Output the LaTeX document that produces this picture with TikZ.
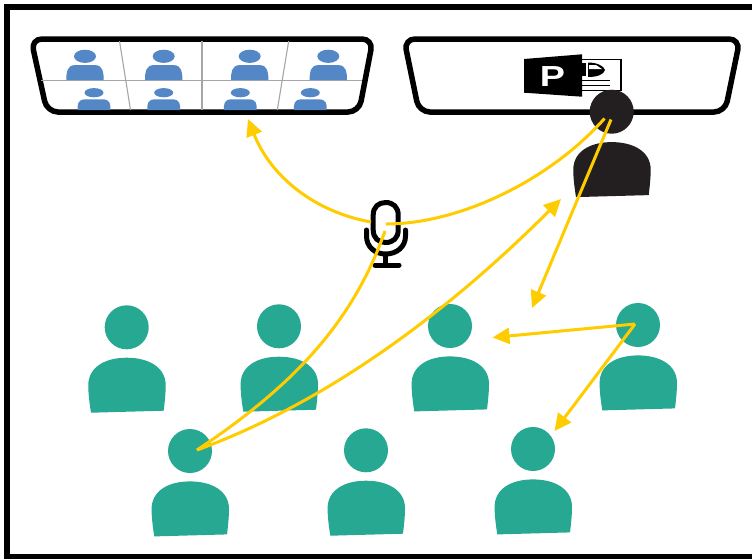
\documentclass[tikz,border=0pt]{standalone}
\usepackage{fontspec}
\setmainfont{Liberation Sans}
\usetikzlibrary{arrows.meta}
\definecolor{teal}{HTML}{27A893}
\definecolor{ink}{HTML}{231F20}
\definecolor{bluep}{HTML}{5487C5}
\definecolor{gold}{HTML}{FFCC00}
\tikzset{
  frameline/.style={draw=black,line width=5.5pt},
  screen/.style={draw=black,line width=5.5pt,rounded corners=11pt,fill=white},
  gridline/.style={draw=black!35,line width=1.1pt},
  flow/.style={draw=gold,line width=3pt,-{Triangle[length=17pt,width=16pt,fill=gold]}},
  flowplain/.style={draw=gold,line width=3pt},
  micline/.style={draw=black,line width=5pt,line cap=round},
  person/.pic={
    \fill (0,0) circle (22);
    \fill (-35.7,85.4) .. controls (-37.5,74) and (-38.4,66) .. (-38.4,58)
      .. controls (-38.4,40) and (-22,30.4) .. (0,30.4)
      .. controls (22,30.4) and (39,40) .. (39,58)
      .. controls (39,66) and (38,75) .. (37,83.4) -- cycle;
  },
  minitop/.pic={
    \fill (0,0) ellipse (11 and 6.6);
    \fill (-18.6,23.8) .. controls (-18.8,16) and (-18,9) .. (-10,8.8) -- (10,8.8)
      .. controls (18,9) and (18.8,16) .. (18.6,23.8) -- cycle;
  },
  minibot/.pic={
    \fill (0,0) ellipse (9.5 and 4.6);
    \fill (-16.4,17.3) .. controls (-16.6,11) and (-16,7) .. (-9,6.6) -- (9,6.6)
      .. controls (16,7) and (16.6,11) .. (16.4,17.3) -- cycle;
  }
}
\begin{document}
\begin{tikzpicture}[x=1pt,y=-1pt]
\useasboundingbox (0,0) rectangle (752,558);
\clip (0,0) rectangle (752,558);
\fill[white] (0,0) rectangle (752,558);
% frame
\draw[frameline] (760,7) -- (7.2,7) -- (7.2,557) -- (760,557);
% left screen
\draw[screen] (31,39) -- (373,39) -- (359,112) -- (47,112) -- cycle;
\draw[gridline] (41,80.7) -- (362,80.7);
\draw[gridline] (119.5,41) -- (130.5,110);
\draw[gridline] (202,41) -- (202,110);
\draw[gridline] (288.7,41) -- (277.3,110);
\foreach \px in {85,163.7,249.7,328.3}
  \pic[fill=bluep] at (\px,56.3) {minitop};
\foreach \px in {94,163.7,240.3,310.3}
  \pic[fill=bluep] at (\px,92.7) {minibot};
% right screen
\draw[screen] (404,39) -- (740,39) -- (725,112) -- (419,112) -- cycle;
% PowerPoint icon
\draw[black,line width=1pt,fill=white] (575,59.5) -- (621,59.5) -- (621,90.5) -- (575,90.5) -- cycle;
\draw[black,line width=1.6pt] (621.2,59.5) -- (621.2,90.5);
\fill[black] (588,62.5) .. controls (597,62.5) and (604,66) .. (605,70)
  .. controls (604,74.5) and (597,77) .. (588,77) -- cycle;
\fill[white] (589,65) -- (596,65) -- (602,69) -- (589,69) -- cycle;
\fill[black] (582,63) rectangle (586,76);
\draw[black,line width=1.2pt] (582,80.4) -- (610,80.4);
\draw[black,line width=1.2pt] (582,85.3) -- (610,85.3);
\fill[black] (524,59) -- (582,54.3) -- (582,96.7) -- (524,92.7) -- cycle;
\node[text=white,font=\fontsize{29}{29}\selectfont\bfseries,inner sep=0pt,xscale=1.3] (ppt) at (552.5,76.5) {P};
% people
\pic[fill=ink] at (611.7,111.7) {person};
\foreach \px/\py in {126.7/327.3,279/326.3,450/326,638/325,190/451,366/450.3,533/449}
  \pic[fill=teal] at (\px,\py) {person};
% microphone
\draw[micline] (373.2,215) .. controls (373.2,207) and (378.5,202.5) .. (385.7,202.5)
  .. controls (393,202.5) and (398.2,207) .. (398.2,215) -- (398.2,230)
  .. controls (398.2,238) and (393,242.5) .. (385.7,242.5)
  .. controls (378.5,242.5) and (373.2,238) .. (373.2,230) -- cycle;
\draw[micline] (366.5,230) -- (366.5,236) .. controls (366.5,247) and (375,254) .. (385.7,254)
  .. controls (396.5,254) and (405.5,247) .. (405.5,236) -- (405.5,230);
\draw[micline,line cap=butt] (385.7,254) -- (385.7,265);
\draw[micline] (375,265) -- (399,265);
% connectors
\coordinate (micL) at (371,222);
\coordinate (micR) at (386,224);
\coordinate (micB) at (385,231);
\coordinate (tipA) at (248,119);
\coordinate (spkA) at (604.5,118.5);
\coordinate (spkB) at (611,119.5);
\coordinate (tipB) at (532,308);
\coordinate (stu) at (197,450);
\coordinate (tipC) at (561,199);
\coordinate (act) at (635,324);
\coordinate (tipD) at (492.5,337.5);
\coordinate (tipE) at (554.5,431);
\draw[flow] (micL) .. controls (315,212) and (271,177) .. (tipA);
\draw[flowplain] (micR) .. controls (460,224) and (550,180) .. (spkA);
\draw[flow] (spkB) -- (tipB);
\draw[flowplain] (micB) .. controls (352,325) and (290,388) .. (stu);
\draw[flow] (stu) .. controls (320,405) and (440,320) .. (tipC);
\draw[flow] (act) -- (tipD);
\draw[flow] (act) -- (tipE);
\end{tikzpicture}
\end{document}
